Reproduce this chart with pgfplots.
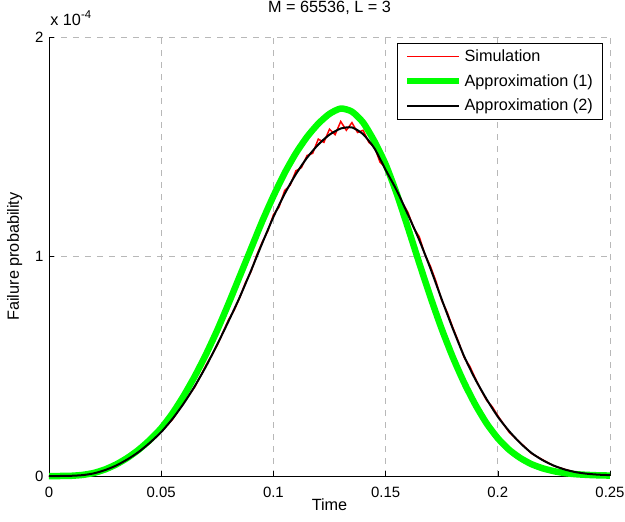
\documentclass[border=0pt]{standalone}
\usepackage{fontspec}
\setmainfont{Liberation Sans}
\usepackage{pgfplots}
\pgfplotsset{compat=1.18}
\newcommand\fs{\fontsize{15}{18}\selectfont}
\newcommand\fl{\fontsize{16.3}{19}\selectfont}
\definecolor{mgreen}{rgb}{0,1,0}
\definecolor{gridgray}{rgb}{0.72,0.72,0.72}
\begin{document}
\begin{tikzpicture}
\path[use as bounding box] (-49bp,-46bp) rectangle (576bp,476bp);
\begin{axis}[
  at={(0,0)}, anchor=origin,
  scale only axis, width=561bp, height=439bp,
  xmin=0, xmax=0.25, ymin=0, ymax=2,
  clip=false,
  axis x line*=bottom, axis y line*=left,
  axis line style={black, line width=0.8bp, -},
  xtick={0,0.05,0.1,0.15,0.2,0.25},
  xticklabels={0,0.05,0.1,0.15,0.2,0.25},
  ytick={0,1,2}, yticklabels={0,1,2},
  tick align=inside, major tick length=5bp,
  tick style={black, line width=0.6bp},
  grid=major,
  major grid style={gridgray, dash pattern=on 6bp off 6bp, line width=0.7bp},
  ticklabel style={font=\fs},
  xticklabel style={anchor=base, yshift=-21bp},
  yticklabel style={anchor=east, xshift=-2bp},
  title={M = 65536, L = 3},
  title style={font=\fl, at={(0.5,1.0433)}, anchor=base},
  xlabel={Time},
  xlabel style={font=\fl, at={(0.5,-0.0797)}, anchor=base},
  ylabel={Failure probability},
  ylabel style={font=\fl, at={(-0.0535,0.5)}, anchor=base},
  legend cell align=left,
  legend image code/.code={\draw[#1] (0bp,0bp) -- (52bp,0bp);},
  legend style={font=\fl, at={(0.9857,0.9863)}, anchor=north east, draw=black, fill=white, inner xsep=7bp, inner ysep=4.5bp, row sep=7.5bp},
]
\addplot[color=red, line width=1.5bp, legend image code/.code={\draw[red, line width=1.5bp] (0bp,0bp) -- (52bp,0bp);}] coordinates {
(0,0) (0.005,0) (0.01,0.001) (0.015,0.004) (0.02,0.013) (0.025,0.026) (0.03,0.049) (0.035,0.075) (0.04,0.112) (0.045,0.150) (0.05,0.203) (0.055,0.257) (0.06,0.334) (0.065,0.406) (0.07,0.505) (0.075,0.596) (0.08,0.712) (0.0825,0.755) (0.085,0.812) (0.0875,0.88) (0.09,0.93) (0.0925,1.005) (0.095,1.065) (0.0975,1.115) (0.1,1.19) (0.1025,1.225) (0.105,1.30) (0.1075,1.325) (0.11,1.39) (0.1125,1.405) (0.115,1.46) (0.1175,1.47) (0.12,1.535) (0.1225,1.52) (0.125,1.58) (0.1275,1.555) (0.13,1.615) (0.1325,1.575) (0.135,1.61) (0.1375,1.565) (0.14,1.575) (0.1425,1.52) (0.145,1.50) (0.1475,1.43) (0.15,1.405) (0.1525,1.34) (0.155,1.305) (0.1575,1.245) (0.16,1.20) (0.1625,1.13) (0.165,1.09) (0.1675,1.01) (0.17,0.955) (0.1725,0.885) (0.175,0.80) (0.1775,0.745) (0.18,0.675) (0.1825,0.612) (0.185,0.54) (0.1875,0.500) (0.19,0.445) (0.1925,0.392) (0.195,0.345) (0.1975,0.316) (0.2,0.275) (0.205,0.20) (0.21,0.152) (0.215,0.103) (0.22,0.074) (0.225,0.046) (0.23,0.030) (0.235,0.016) (0.24,0.010) (0.245,0.005) (0.25,0.004)
};
\addlegendentry{Simulation}
\addplot[mgreen, line width=6.5bp, smooth, tension=0.4] coordinates {
(0,0) (0.005,0) (0.01,0.001) (0.015,0.005) (0.02,0.014) (0.025,0.030) (0.03,0.053) (0.035,0.083) (0.04,0.120) (0.045,0.165) (0.05,0.218) (0.055,0.285) (0.06,0.365) (0.065,0.455) (0.07,0.555) (0.075,0.665) (0.08,0.785) (0.085,0.910) (0.09,1.035) (0.095,1.160) (0.1,1.275) (0.105,1.380) (0.11,1.470) (0.115,1.545) (0.12,1.605) (0.125,1.650) (0.13,1.674) (0.135,1.660) (0.14,1.610) (0.145,1.525) (0.15,1.420) (0.155,1.285) (0.16,1.130) (0.165,0.970) (0.17,0.815) (0.175,0.670) (0.18,0.540) (0.185,0.425) (0.19,0.325) (0.195,0.240) (0.2,0.172) (0.205,0.120) (0.21,0.082) (0.215,0.054) (0.22,0.035) (0.225,0.022) (0.23,0.013) (0.235,0.008) (0.24,0.005) (0.245,0.003) (0.25,0.002)
};
\addlegendentry{Approximation (1)}
\addplot[black, line width=2bp, smooth, tension=0.4] coordinates {
(0,0) (0.005,0) (0.01,0.001) (0.015,0.004) (0.02,0.012) (0.025,0.027) (0.03,0.048) (0.035,0.076) (0.04,0.110) (0.045,0.152) (0.05,0.200) (0.055,0.260) (0.06,0.330) (0.065,0.410) (0.07,0.500) (0.075,0.600) (0.08,0.705) (0.085,0.815) (0.09,0.935) (0.095,1.060) (0.1,1.180) (0.105,1.285) (0.11,1.375) (0.115,1.450) (0.12,1.510) (0.125,1.555) (0.13,1.583) (0.135,1.588) (0.14,1.557) (0.145,1.493) (0.15,1.395) (0.155,1.300) (0.16,1.190) (0.165,1.075) (0.17,0.945) (0.175,0.805) (0.18,0.670) (0.185,0.545) (0.19,0.440) (0.195,0.350) (0.2,0.270) (0.205,0.205) (0.21,0.150) (0.215,0.105) (0.22,0.072) (0.225,0.047) (0.23,0.029) (0.235,0.017) (0.24,0.010) (0.245,0.006) (0.25,0.004)
};
\addlegendentry{Approximation (2)}
\node[anchor=base west, inner sep=0pt] at (axis description cs:0.002,1.0273) {\fl x 10\textsuperscript{-4}};
\end{axis}
\end{tikzpicture}
\end{document}
